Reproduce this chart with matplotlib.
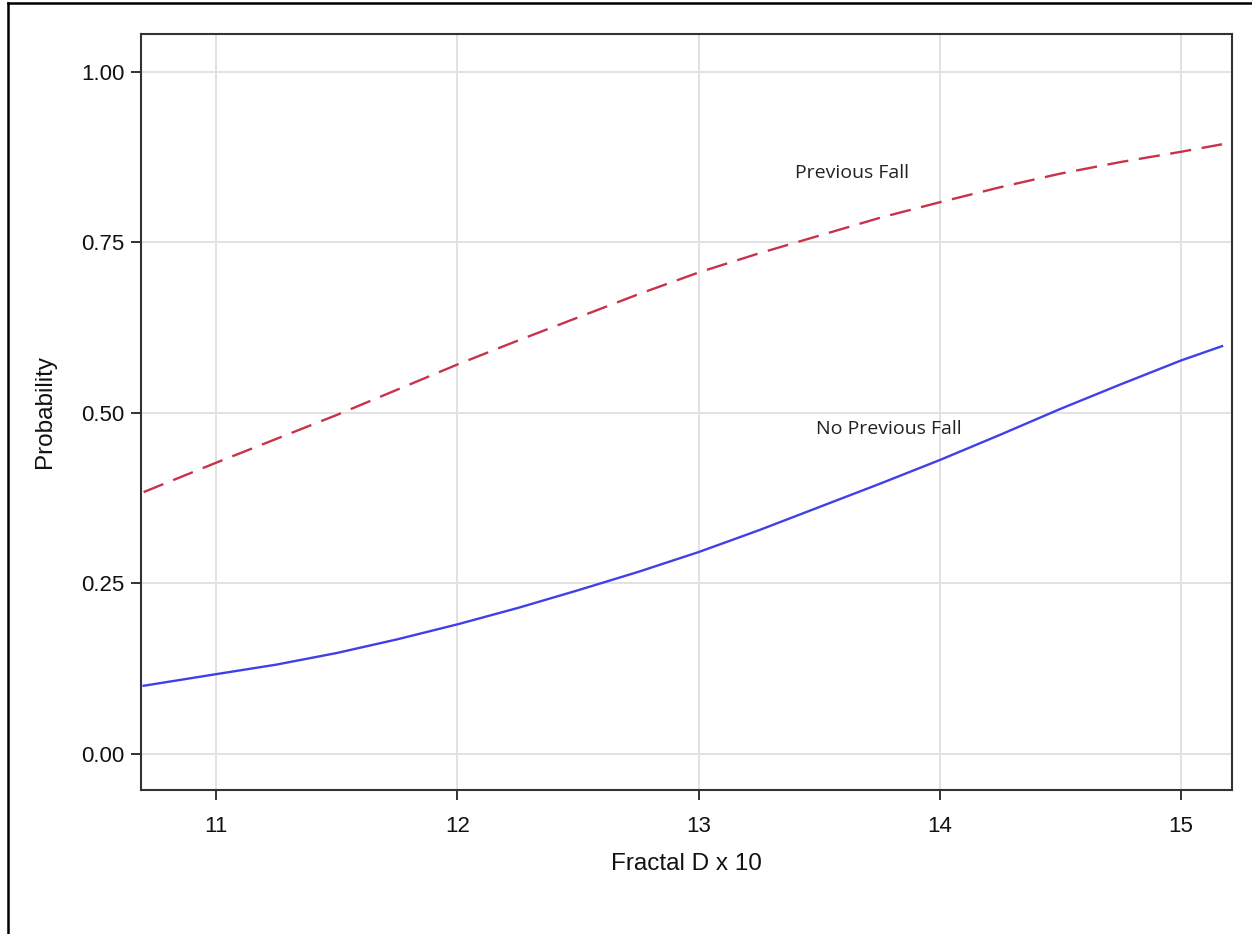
import matplotlib
matplotlib.use("Agg")
import matplotlib.pyplot as plt
from matplotlib.lines import Line2D

# values
fractal_d = [10.7, 11.0, 11.25, 11.5, 11.75, 12.0, 12.25, 12.5, 12.75, 13.0,
             13.25, 13.5, 13.75, 14.0, 14.25, 14.5, 14.75, 15.0, 15.17]
prob_prev_fall = [0.384, 0.427, 0.462, 0.497, 0.534, 0.571, 0.606, 0.640, 0.674, 0.706,
                  0.734, 0.760, 0.786, 0.809, 0.831, 0.851, 0.868, 0.883, 0.894]
prob_no_prev_fall = [0.100, 0.117, 0.131, 0.148, 0.168, 0.190, 0.214, 0.240, 0.267, 0.296,
                     0.328, 0.362, 0.396, 0.431, 0.468, 0.506, 0.542, 0.577, 0.598]

x_ticks = [11, 12, 13, 14, 15]
y_ticks = [0.0, 0.25, 0.5, 0.75, 1.0]
y_tick_labels = ["0.00", "0.25", "0.50", "0.75", "1.00"]

plt.rcParams["font.family"] = ["Liberation Sans", "DejaVu Sans"]

fig = plt.figure(figsize=(12.52, 9.34), dpi=100)
ax = fig.add_axes([0.1126, 0.1542, 0.8714, 0.8094])

ax.plot(fractal_d, prob_prev_fall, color="#c8324a", lw=1.7, dashes=(9, 4.5))
ax.plot(fractal_d, prob_no_prev_fall, color="#4040e8", lw=1.7)

ax.text(13.636, 0.852, "Previous Fall", ha="center", va="center",
        fontsize=14, family=["Open Sans", "DejaVu Sans"], color="#222222")
ax.text(13.79, 0.4765, "No Previous Fall", ha="center", va="center",
        fontsize=14, family=["Open Sans", "DejaVu Sans"], color="#222222")

ax.set_xlim(10.689, 15.211)
ax.set_ylim(-0.0528, 1.0557)
ax.set_xticks(x_ticks)
ax.set_yticks(y_ticks)
ax.set_yticklabels(y_tick_labels)
ax.tick_params(labelsize=16, length=7, width=1.4, color="#333333",
               labelcolor="#111111")
ax.tick_params(axis="x", pad=12)
ax.tick_params(axis="y", pad=5)
ax.grid(True, color="#e2e2e2", lw=1.4)
ax.set_axisbelow(True)
for sp in ax.spines.values():
    sp.set_color("#333333")
    sp.set_linewidth(1.5)

ax.set_xlabel("Fractal D x 10", fontsize=17.5, labelpad=11, color="#111111")
ax.set_ylabel("Probability", fontsize=17.5, labelpad=18, color="#111111")

# outer frame of the screenshot (left and top edges)
fig.add_artist(Line2D([0.006, 0.006], [0, 0.997], color="black", lw=1.8,
                      transform=fig.transFigure))
fig.add_artist(Line2D([0.006, 1.0], [0.997, 0.997], color="black", lw=1.8,
                      transform=fig.transFigure))

fig.savefig("out.png", dpi=100)
plt.close()
